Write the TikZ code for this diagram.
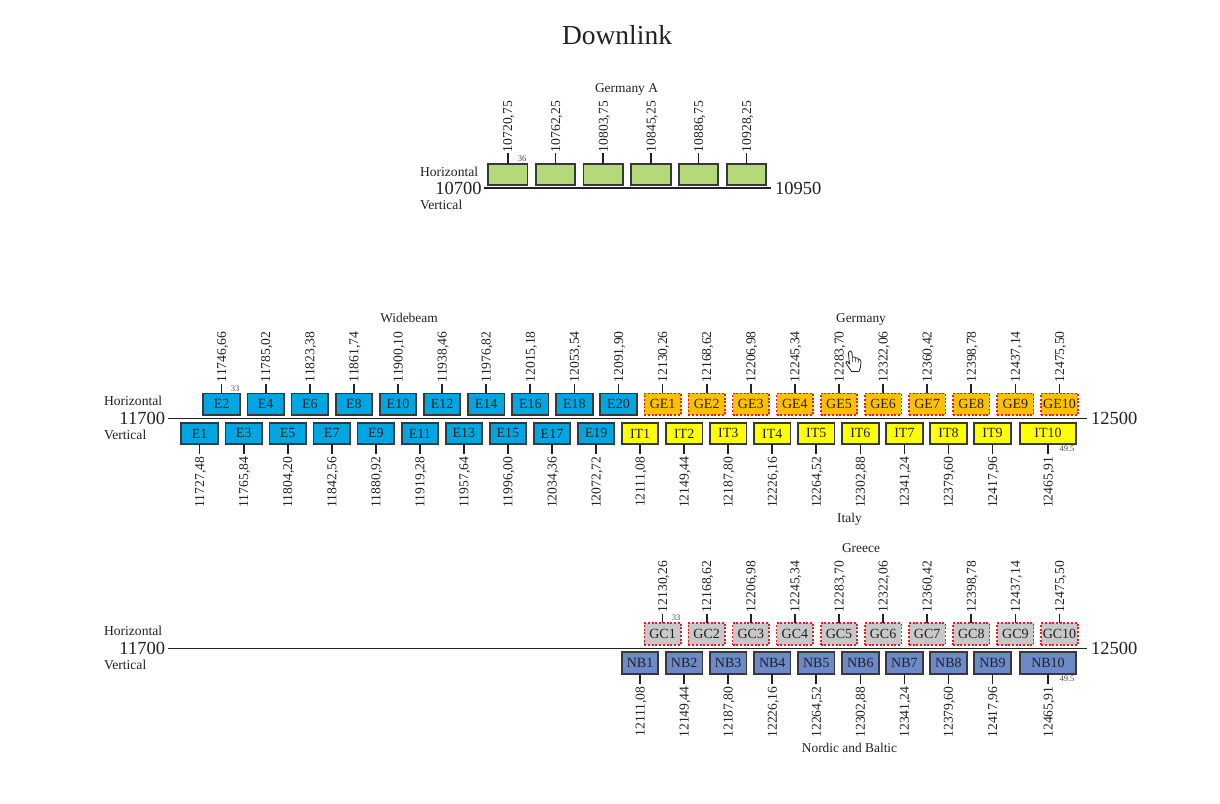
\documentclass[tikz,border=0pt]{standalone}
\usepackage{fontspec}
\setmainfont{Liberation Serif}
\definecolor{cgreen}{HTML}{B5D878}
\definecolor{cblue}{HTML}{00A6E2}
\definecolor{corange}{HTML}{FFC000}
\definecolor{cyell}{HTML}{FFFF00}
\definecolor{cgrey}{HTML}{C8C8C8}
\definecolor{cnb}{HTML}{6C8AC8}
\definecolor{cink}{HTML}{222222}
\definecolor{cedge}{HTML}{383838}
\definecolor{cred}{HTML}{E3202A}
\newcommand{\fs}[1]{\fontsize{#1}{#1}\selectfont}
\tikzset{
  x=1pt,y=-1pt,
  every node/.style={inner sep=0pt,outer sep=0pt,text=cink},
  chbox/.style={draw=cedge,line width=1.8pt,minimum height=21.5pt,font=\fs{14}},
  wd/.style={minimum width=36.5pt},
  wdlong/.style={minimum width=55.5pt},
  wdga/.style={minimum width=39.5pt},
  fgreen/.style={chbox,fill=cgreen},
  fblue/.style={chbox,fill=cblue},
  fyell/.style={chbox,fill=cyell},
  fnb/.style={chbox,fill=cnb},
  fdash/.style={draw=cred,line width=1.6pt,dash pattern=on 2pt off 1.7pt,minimum height=21.5pt,font=\fs{14}},
  forange/.style={fdash,fill=corange},
  fgrey/.style={fdash,fill=cgrey},
  freq/.style={font=\fs{13.6},rotate=90,text depth=0pt},
  tick/.style={draw=cink,line width=1.7pt},
  axisline/.style={draw=cink,line width=1.5pt},
  bandtitle/.style={font=\fs{13.4}},
  pol/.style={font=\fs{13.6},anchor=west},
  edgef/.style={font=\fs{18.5}},
  tiny/.style={font=\fs{8.5},text=black!70},
}
% top channel: name, centre x, box y, label text, box style, node id
\newcommand{\upch}[6]{%
  \node[#5,wd] (b#6) at (#2,#3) {#1};
  \node[freq,anchor=west] (l#6) at (#2,#3-12-10) {#4};
  \draw[tick,shorten >=2pt] (b#6.north) -- (l#6.west);
}
\newcommand{\dnch}[6]{%
  \node[#5] (b#6) at (#2,#3) {#1};
  \node[freq,anchor=east] (l#6) at (#2,#3+12+11.5) {#4};
  \draw[tick,shorten >=2.5pt] (b#6.south) -- (l#6.east);
}
\begin{document}
\begin{tikzpicture}
\useasboundingbox (0,0) rectangle (1220,803);
\fill[white] (0,0) rectangle (1220,803);
\node[font=\fs{27.5}] (title) at (617,35) {Downlink};

% ---------- Germany A
\node[bandtitle] (ga) at (626.5,89.5) {Germany A};
\foreach \a/\b/\x [count=\i] in {10720/75/507.7,10762/25/555.6,10803/75/603.3,10845/25/651,10886/75/698.5,10928/25/746.5}{
  \node[fgreen,wdga] (bga\i) at (\x,174.5) {};
  \node[freq,anchor=west] (lga\i) at (\x,152) {\a,\b};
  \draw[tick] (bga\i.north) -- ([yshift=-1pt]lga\i.west);
}
\node[tiny] (ga36) at (522,159) {36};
\node[pol] (gah) at (420,172) {Horizontal};
\node[pol] (gav) at (420,204.5) {Vertical};
\node[edgef,anchor=east] (ga0) at (481.5,188) {10700};
\node[edgef,anchor=west] (ga1) at (775,188) {10950};
\coordinate (ga0c) at (484,188.4);
\coordinate (ga1c) at (771,188.4);
\draw[axisline,line width=1.9pt] (ga0c) -- (ga1c);

% ---------- Widebeam / Germany / Italy
\node[bandtitle] (wb) at (409,318) {Widebeam};
\node[bandtitle] (ge) at (861,319.5) {Germany};
\node[bandtitle] (it) at (849.5,519) {Italy};
\node[pol] (wh) at (104,401) {Horizontal};
\node[pol] (wv) at (104,435) {Vertical};
\node[edgef,anchor=east] (w0) at (165,418) {11700};
\node[edgef,anchor=west] (w1) at (1091,418) {12500};
\coordinate (w0c) at (168,418.3);
\coordinate (w1c) at (1087,418.3);
\draw[axisline] (w0c) -- (w1c);

\foreach \n/\a/\b [count=\i from 0] in {E2/11746/66,E4/11785/02,E6/11823/38,E8/11861/74,E10/11900/10,E12/11938/46,E14/11976/82,E16/12015/18,E18/12053/54,E20/12091/90}{
  \pgfmathsetmacro\xx{221.6+44.1*\i}
  \upch{\n}{\xx}{404.2}{\a,\b}{fblue}{\n}
}
\foreach \n/\a/\b [count=\i from 10] in {GE1/12130/26,GE2/12168/62,GE3/12206/98,GE4/12245/34,GE5/12283/70,GE6/12322/06,GE7/12360/42,GE8/12398/78,GE9/12437/14,GE10/12475/50}{
  \pgfmathsetmacro\xx{221.6+44.1*\i}
  \upch{\n}{\xx}{404.2}{\a,\b}{forange}{\n}
}
\foreach \n/\a/\b [count=\i from 0] in {E1/11727/48,E3/11765/84,E5/11804/20,E7/11842/56,E9/11880/92,E11/11919/28,E13/11957/64,E15/11996/00,E17/12034/36,E19/12072/72}{
  \pgfmathsetmacro\xx{199.6+44.05*\i}
  \dnch{\n}{\xx}{433.4}{\a,\b}{fblue,wd}{\n}
}
\foreach \n/\a/\b [count=\i from 10] in {IT1/12111/08,IT2/12149/44,IT3/12187/80,IT4/12226/16,IT5/12264/52,IT6/12302/88,IT7/12341/24,IT8/12379/60,IT9/12417/96}{
  \pgfmathsetmacro\xx{199.6+44.05*\i}
  \dnch{\n}{\xx}{433.4}{\a,\b}{fyell,wd}{\n}
}
\dnch{IT10}{1048}{433.4}{12465,91}{fyell,wdlong}{IT10}
\node[tiny] (w33) at (235,389) {33};
\node[tiny] (w49) at (1067,449) {49.5};

% ---------- Greece / Nordic and Baltic
\node[bandtitle] (gr) at (861,548) {Greece};
\node[bandtitle] (nb) at (849.5,748) {Nordic and Baltic};
\node[pol] (gh) at (104,631) {Horizontal};
\node[pol] (gv) at (104,665) {Vertical};
\node[edgef,anchor=east] (g0) at (165,648) {11700};
\node[edgef,anchor=west] (g1) at (1091,648) {12500};
\coordinate (g0c) at (168,648.3);
\coordinate (g1c) at (1087,648.3);
\draw[axisline] (g0c) -- (g1c);
\foreach \n/\a/\b [count=\i from 10] in {GC1/12130/26,GC2/12168/62,GC3/12206/98,GC4/12245/34,GC5/12283/70,GC6/12322/06,GC7/12360/42,GC8/12398/78,GC9/12437/14,GC10/12475/50}{
  \pgfmathsetmacro\xx{221.6+44.1*\i}
  \upch{\n}{\xx}{634}{\a,\b}{fgrey}{\n}
}
\foreach \n/\a/\b [count=\i from 10] in {NB1/12111/08,NB2/12149/44,NB3/12187/80,NB4/12226/16,NB5/12264/52,NB6/12302/88,NB7/12341/24,NB8/12379/60,NB9/12417/96}{
  \pgfmathsetmacro\xx{199.6+44.05*\i}
  \dnch{\n}{\xx}{663}{\a,\b}{fnb,wd}{\n}
}
\dnch{NB10}{1048}{663}{12465,91}{fnb,wdlong}{NB10}
\node[tiny] (g33) at (676,618) {33};
\node[tiny] (g49) at (1067,679) {49.5};

% ---------- cursor
\draw[fill=white,draw=cink,line width=.8pt,line join=round]
  (849.5,351) .. controls (850.5,350.5) and (851.8,351.5) .. (852,353) -- (852.3,357)
  .. controls (854,356.5) and (855,357) .. (855.5,358)
  .. controls (857,357.5) and (858,358) .. (858.3,359.3)
  .. controls (860,359) and (861,360) .. (861,362)
  -- (860.5,367) .. controls (860,369) and (859.5,370) .. (859,371.5)
  -- (851.5,371.5) .. controls (850,369) and (848,366.5) .. (846,363)
  .. controls (845.5,361.5) and (847,361) .. (848,362) -- (849.5,364)
  -- (848.3,353) .. controls (848.2,352) and (848.7,351.3) .. (849.5,351) -- cycle;
\draw[draw=cink,line width=.5pt] (852.3,357) -- (852.6,362) (855.5,358) -- (855.7,362) (858.3,359.3) -- (858.3,362.5);
\end{tikzpicture}
\end{document}
